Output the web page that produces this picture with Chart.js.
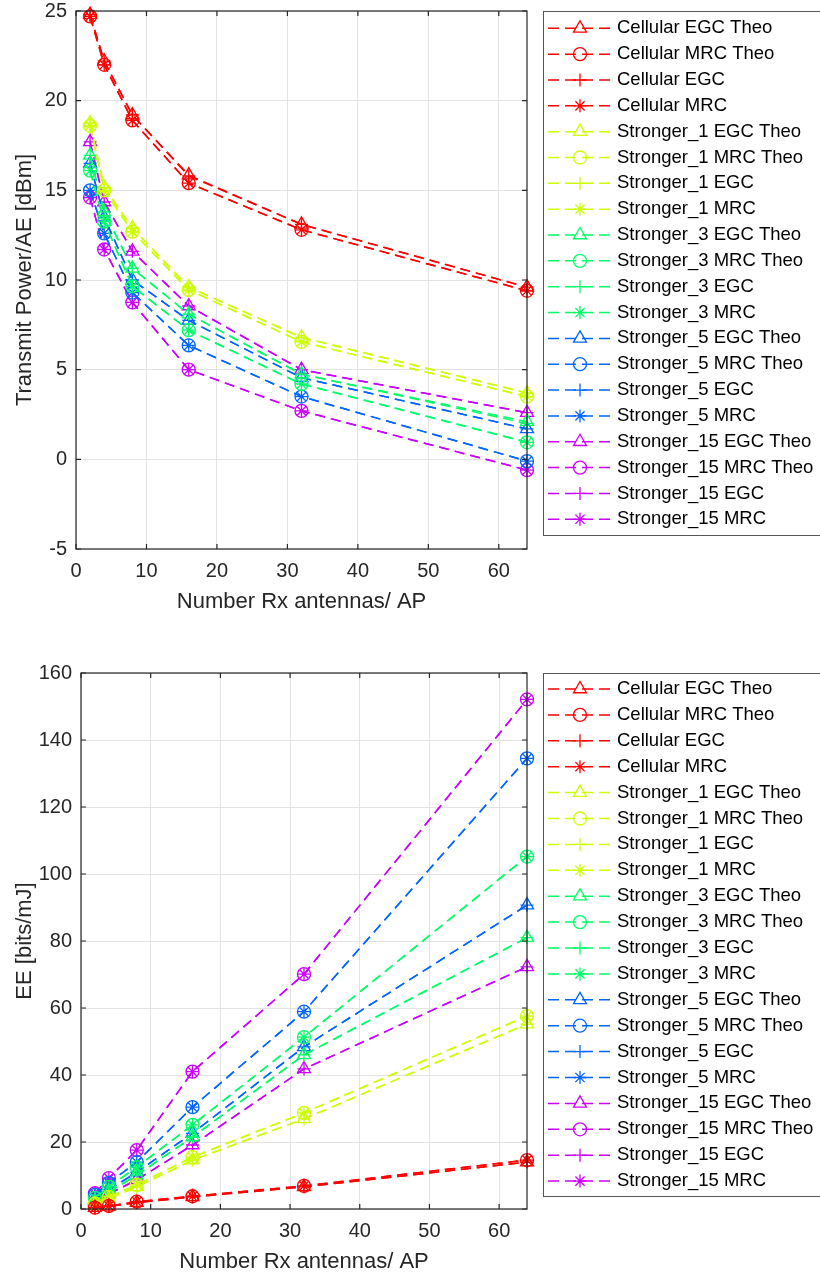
<!DOCTYPE html>
<html>
<head>
<meta charset="utf-8">
<script src="https://cdn.jsdelivr.net/npm/chart.js@4.4.1/dist/chart.umd.min.js"></script>
<style>
  body { margin: 0; background: #fff; }
  canvas { display: block; }
</style>
</head>
<body>
<canvas id="powerChart" width="820" height="640"></canvas>
<canvas id="eeChart" width="820" height="637"></canvas>
<script>
// number of Rx antennas per AP (x axis, both charts)
var antennas = [2, 4, 8, 16, 32, 64];

var schemes = ['Cellular', 'Stronger_1', 'Stronger_3', 'Stronger_5', 'Stronger_15'];
var variants = ['EGC Theo', 'MRC Theo', 'EGC', 'MRC'];
var colours = ['#ff0000', '#ccff00', '#00ff66', '#0066ff', '#cc00ff'];
var markers = ['triangle', 'circle', 'cross', 'star'];

var powerTicks = [-5, 0, 5, 10, 15, 20, 25];
var eeTicks = [0, 20, 40, 60, 80, 100, 120, 140, 160];

// transmit power / AE [dBm]
var powCellularEgcTheo = [24.8, 22.2, 19.2, 15.85, 13.1, 9.6];
var powCellularMrcTheo = [24.7, 22.0, 18.9, 15.4, 12.8, 9.4];
var powCellularEgc     = [24.8, 22.2, 19.2, 15.8, 13.1, 9.6];
var powCellularMrc     = [24.7, 22.0, 18.9, 15.4, 12.8, 9.4];

var powS1EgcTheo = [18.75, 15.15, 12.9, 9.6, 6.8, 3.7];
var powS1MrcTheo = [18.6, 15.0, 12.7, 9.45, 6.55, 3.5];
var powS1Egc     = [18.75, 15.15, 12.9, 9.6, 6.8, 3.7];
var powS1Mrc     = [18.6, 15.0, 12.7, 9.45, 6.55, 3.5];

var powS3EgcTheo = [16.95, 13.8, 10.65, 8.1, 4.75, 2.1];
var powS3MrcTheo = [16.1, 13.25, 9.65, 7.2, 4.2, 0.95];
var powS3Egc     = [16.95, 13.8, 10.65, 8.1, 4.75, 2.0];
var powS3Mrc     = [16.1, 13.25, 9.65, 7.2, 4.2, 0.95];

var powS5EgcTheo = [16.5, 13.5, 10.0, 7.75, 4.55, 1.7];
var powS5MrcTheo = [15.0, 12.6, 9.3, 6.35, 3.5, -0.1];
var powS5Egc     = [16.5, 13.5, 10.0, 7.75, 4.55, 1.7];
var powS5Mrc     = [15.0, 12.6, 9.3, 6.35, 3.5, -0.1];

var powS15EgcTheo = [17.7, 14.35, 11.6, 8.55, 5.0, 2.6];
var powS15MrcTheo = [14.6, 11.7, 8.75, 5.0, 2.7, -0.6];
var powS15Egc     = [17.7, 14.35, 11.6, 8.55, 5.0, 2.6];
var powS15Mrc     = [14.6, 11.7, 8.75, 5.0, 2.7, -0.6];

// energy efficiency [bits/mJ]
var eeCellularEgcTheo = [0.4, 0.8, 1.9, 3.6, 6.6, 14.0];
var eeCellularMrcTheo = [0.4, 0.9, 2.2, 3.8, 6.9, 14.6];
var eeCellularEgc     = [0.4, 0.8, 1.9, 3.6, 6.6, 14.0];
var eeCellularMrc     = [0.4, 0.9, 2.2, 3.8, 6.9, 14.6];

var eeS1EgcTheo = [1.5, 3.1, 6.6, 14.6, 26.9, 55.2];
var eeS1MrcTheo = [1.6, 3.6, 7.2, 15.5, 28.7, 57.6];
var eeS1Egc     = [1.5, 3.1, 6.6, 14.6, 26.9, 55.2];
var eeS1Mrc     = [1.6, 3.6, 7.2, 15.5, 28.7, 57.6];

var eeS3EgcTheo = [2.4, 5.1, 10.1, 21.5, 46.0, 81.0];
var eeS3MrcTheo = [3.3, 6.6, 12.5, 25.1, 51.3, 105.2];
var eeS3Egc     = [2.4, 5.1, 10.1, 21.5, 46.0, 81.0];
var eeS3Mrc     = [3.3, 6.6, 12.5, 25.1, 51.3, 105.2];

var eeS5EgcTheo = [2.7, 5.7, 11.0, 22.6, 48.4, 90.7];
var eeS5MrcTheo = [4.2, 7.8, 14.0, 30.4, 58.9, 134.5];
var eeS5Egc     = [2.7, 5.7, 11.0, 22.6, 48.4, 90.7];
var eeS5Mrc     = [4.2, 7.8, 14.0, 30.4, 58.9, 134.5];

var eeS15EgcTheo = [2.1, 4.5, 8.7, 19.1, 41.8, 72.3];
var eeS15MrcTheo = [4.7, 9.2, 17.6, 41.0, 70.1, 152.1];
var eeS15Egc     = [2.1, 4.5, 8.7, 19.1, 41.8, 72.3];
var eeS15Mrc     = [4.7, 9.2, 17.6, 41.0, 70.1, 152.1];

var powerValues = [
  [powCellularEgcTheo, powCellularMrcTheo, powCellularEgc, powCellularMrc],
  [powS1EgcTheo, powS1MrcTheo, powS1Egc, powS1Mrc],
  [powS3EgcTheo, powS3MrcTheo, powS3Egc, powS3Mrc],
  [powS5EgcTheo, powS5MrcTheo, powS5Egc, powS5Mrc],
  [powS15EgcTheo, powS15MrcTheo, powS15Egc, powS15Mrc]
];
var eeValues = [
  [eeCellularEgcTheo, eeCellularMrcTheo, eeCellularEgc, eeCellularMrc],
  [eeS1EgcTheo, eeS1MrcTheo, eeS1Egc, eeS1Mrc],
  [eeS3EgcTheo, eeS3MrcTheo, eeS3Egc, eeS3Mrc],
  [eeS5EgcTheo, eeS5MrcTheo, eeS5Egc, eeS5Mrc],
  [eeS15EgcTheo, eeS15MrcTheo, eeS15Egc, eeS15Mrc]
];

var FONT = '"Liberation Sans", Arial, Helvetica, sans-serif';
var AXIS_COL = '#262626';

function markerRadius(style) {
  return style === 'triangle' ? 7.5 : 6.5;
}

function buildDatasets(values) {
  var sets = [];
  for (var s = 0; s < schemes.length; s++) {
    for (var v = 0; v < variants.length; v++) {
      var vals = values[s][v];
      sets.push({
        label: schemes[s] + ' ' + variants[v],
        data: antennas.map(function (a, k) { return { x: a, y: vals[k] }; }),
        borderColor: colours[s],
        backgroundColor: colours[s],
        borderWidth: 1.5,
        borderDash: [10, 6],
        pointStyle: markers[v],
        pointRadius: markerRadius(markers[v]),
        pointHoverRadius: markerRadius(markers[v]),
        pointBorderColor: colours[s],
        pointBackgroundColor: 'rgba(0,0,0,0)',
        pointBorderWidth: 1.3,
        tension: 0,
        fill: false,
        clip: false
      });
    }
  }
  return sets;
}

// box with inward ticks + side legend, matlab style
var frameLegend = {
  id: 'frameLegend',
  afterDraw: function (chart, args, opts) {
    var ctx = chart.ctx, a = chart.chartArea;
    var xs = chart.scales.x, ys = chart.scales.y;
    ctx.save();
    ctx.strokeStyle = AXIS_COL;
    ctx.lineWidth = 1.2;
    ctx.setLineDash([]);
    ctx.strokeRect(a.left, a.top, a.right - a.left, a.bottom - a.top);
    ctx.beginPath();
    xs.ticks.forEach(function (t) {
      var px = xs.getPixelForValue(t.value);
      ctx.moveTo(px, a.bottom); ctx.lineTo(px, a.bottom - 5);
      ctx.moveTo(px, a.top); ctx.lineTo(px, a.top + 5);
    });
    ys.ticks.forEach(function (t) {
      var py = ys.getPixelForValue(t.value);
      ctx.moveTo(a.left, py); ctx.lineTo(a.left + 5, py);
      ctx.moveTo(a.right, py); ctx.lineTo(a.right - 5, py);
    });
    ctx.stroke();

    // legend box
    ctx.strokeStyle = '#555';
    ctx.lineWidth = 1;
    ctx.strokeRect(opts.left + 0.5, opts.top + 0.5, 300, opts.bottom - opts.top);
    ctx.font = opts.fontSize + 'px ' + FONT;
    ctx.textBaseline = 'middle';
    ctx.textAlign = 'left';
    chart.data.datasets.forEach(function (ds, i) {
      var y = opts.first + i * opts.step;
      ctx.strokeStyle = ds.borderColor;
      ctx.lineWidth = 1.5;
      ctx.setLineDash([11, 6]);
      ctx.beginPath();
      ctx.moveTo(opts.left + 5, y);
      ctx.lineTo(opts.left + 70, y);
      ctx.stroke();
      ctx.setLineDash([]);
      ctx.lineWidth = 1.3;
      ctx.fillStyle = 'rgba(0,0,0,0)';
      Chart.helpers.drawPoint(ctx, {
        pointStyle: ds.pointStyle,
        radius: ds.pointRadius,
        rotation: 0,
        borderWidth: 1.3
      }, opts.left + 37, y);
      ctx.fillStyle = '#000';
      ctx.fillText(ds.label, opts.left + 74, y);
    });
    ctx.restore();
  }
};

function makeChart(id, values, cfg) {
  return new Chart(document.getElementById(id), {
    type: 'line',
    data: { datasets: buildDatasets(values) },
    plugins: [frameLegend],
    options: {
      responsive: false,
      animation: false,
      events: [],
      layout: { padding: { left: 0, right: 820 - cfg.right, top: cfg.top, bottom: 0 } },
      plugins: {
        legend: { display: false },
        tooltip: { enabled: false },
        frameLegend: cfg.legend
      },
      scales: {
        x: {
          type: 'linear',
          min: 0,
          max: 64,
          afterFit: function (scale) {
            scale.height = cfg.xHeight;
            scale.paddingLeft = 0;
            scale.paddingRight = 0;
          },
          ticks: {
            stepSize: 10,
            includeBounds: false,
            padding: 10,
            color: AXIS_COL,
            font: { family: FONT, size: 20 }
          },
          grid: { color: '#e3e3e3', lineWidth: 1, drawTicks: false },
          border: { display: false },
          title: {
            display: true,
            text: 'Number Rx antennas/ AP',
            color: AXIS_COL,
            font: { family: FONT, size: 22 },
            padding: { top: 0, bottom: cfg.xTitlePad }
          }
        },
        y: {
          type: 'linear',
          min: cfg.ticks[0],
          max: cfg.ticks[cfg.ticks.length - 1],
          afterFit: function (scale) {
            scale.width = cfg.left;
            scale.paddingTop = 0;
            scale.paddingBottom = 0;
          },
          afterBuildTicks: function (scale) {
            scale.ticks = cfg.ticks.map(function (v) { return { value: v }; });
          },
          ticks: {
            padding: 9,
            color: AXIS_COL,
            font: { family: FONT, size: 20 }
          },
          grid: { color: '#e3e3e3', lineWidth: 1, drawTicks: false },
          border: { display: false },
          title: {
            display: true,
            text: cfg.yTitle,
            color: AXIS_COL,
            font: { family: FONT, size: 22 },
            padding: { top: 12, bottom: 0 }
          }
        }
      }
    }
  });
}

makeChart('powerChart', powerValues, {
  left: 76, right: 527, top: 11, xHeight: 640 - 549, xTitlePad: 25,
  ticks: powerTicks, yTitle: 'Transmit Power/AE [dBm]',
  legend: { left: 543, top: 11, bottom: 535, first: 28.3, step: 25.84, fontSize: 18.5 }
});

makeChart('eeChart', eeValues, {
  left: 81, right: 527, top: 33, xHeight: 637 - 569, xTitlePad: 2,
  ticks: eeTicks, yTitle: 'EE [bits/mJ]',
  legend: { left: 543, top: 33, bottom: 556, first: 49, step: 25.9, fontSize: 18.5 }
});
</script>
</body>
</html>
